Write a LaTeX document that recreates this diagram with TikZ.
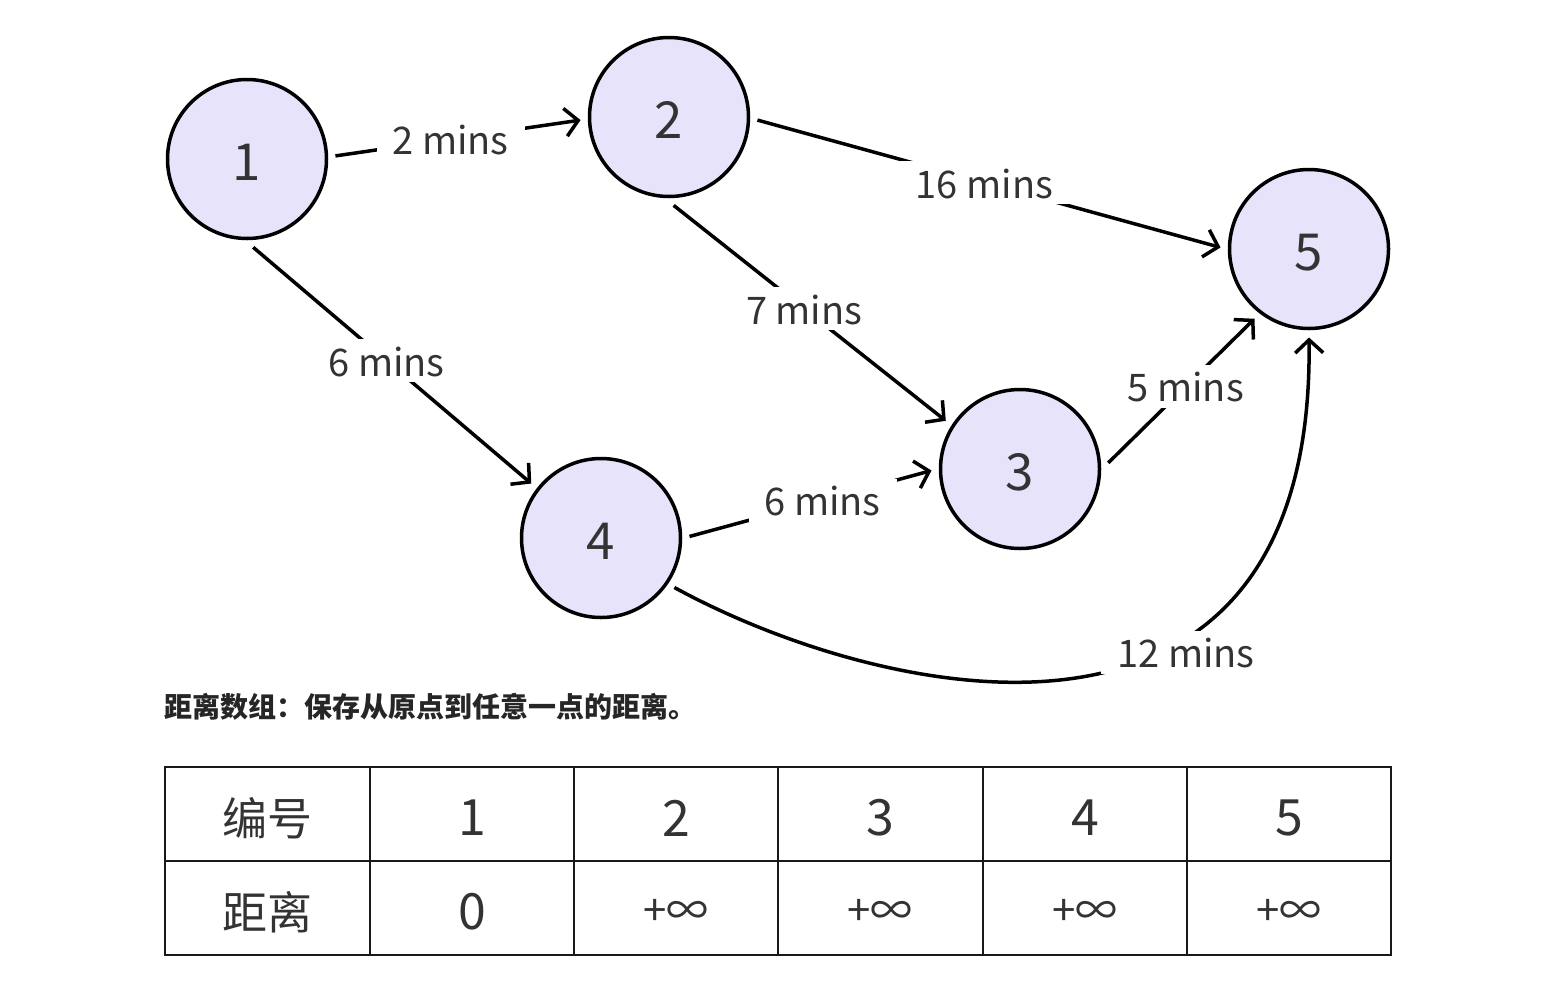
\documentclass[tikz,border=0pt]{standalone}
\usepackage{fontspec}
\setmainfont{Noto Sans CJK SC}
\usetikzlibrary{arrows.meta}
\definecolor{nodefill}{HTML}{E6E3FA}
\definecolor{txt}{HTML}{333333}
\begin{document}
\begin{tikzpicture}[x=1pt,y=-1pt,
 vert/.style={circle, draw=black, line width=3.5pt, fill=nodefill, minimum size=159pt, inner sep=0pt, outer sep=9pt, font=\fontsize{51}{51}\selectfont, text=txt, text height=43pt, text depth=0pt},
 edge/.style={line width=3.5pt, -{Straight Barb[length=13pt,width=28pt,line width=3.5pt]}},
 lab/.style={fill=white, inner xsep=16pt, inner ysep=6pt, font=\fontsize{38}{38}\selectfont, text=txt, text height=31pt, text depth=0pt},
 cell/.style={font=\fontsize{50}{50}\selectfont, text=txt},
 cellcn/.style={font=\fontsize{45}{45}\selectfont, text=txt},
 cellinf/.style={font=\fontsize{42}{42}\selectfont, text=txt},
]
\useasboundingbox (0,0) rectangle (1546,1002);

% vertices
\node[vert] (n1) at (247,159) {1};
\node[vert] (n2) at (669,117) {2};
\node[vert] (n5) at (1309,249) {5};
\node[vert] (n3) at (1020,469) {3};
\node[vert] (n4) at (601,538) {4};

% edges
\draw[edge] (n1.2) -- node[lab,pos=0.47]{2 mins} (n2.-178);
\draw[edge] (n1.-86) -- node[lab,pos=0.48]{6 mins} (n4.142);
\draw[edge] (n2.-2) -- node[lab,pos=0.49]{16 mins} (n5.179);
\draw[edge] (n2.-87) -- node[lab,pos=0.48]{7 mins} (n3.147);
\draw[edge] (n4.1) -- node[lab,pos=0.55]{6 mins} (n3.-179);
\draw[edge] (n3.4) -- node[lab,pos=0.53]{5 mins} (n5.-128);
\draw[edge] (n4.-34) .. controls (880,700) and (1315,800) .. node[lab,pos=0.65,yshift=-12pt,xshift=4pt]{12 mins} (n5.-90);

% caption
\node[anchor=west, font=\fontsize{28}{28}\selectfont\bfseries, text=black!85, inner sep=0pt] (cap) at (164,707) {距离数组：保存从原点到任意一点的距离。};

% table
\draw[line width=2pt, black!90] (165,767) rectangle (1391,955);
\draw[line width=2pt, black!90] (165,861) -- (1391,861);
\foreach \x in {370,574,778,983,1187} \draw[line width=2pt, black!90] (\x,767) -- (\x,955);

\node[cellcn] (h0) at (267,818) {编号};
\node[cell] (h1) at (472,818) {1};
\node[cell] (h2) at (676,818) {2};
\node[cell] (h3) at (880,818) {3};
\node[cell] (h4) at (1085,818) {4};
\node[cell] (h5) at (1289,818) {5};

\node[cellcn] (d0) at (267,912) {距离};
\node[cell] (d1) at (472,912) {0};
\node[cellinf] (d2) at (676,912) {+∞};
\node[cellinf] (d3) at (880,912) {+∞};
\node[cellinf] (d4) at (1085,912) {+∞};
\node[cellinf] (d5) at (1289,912) {+∞};
\end{tikzpicture}
\end{document}
